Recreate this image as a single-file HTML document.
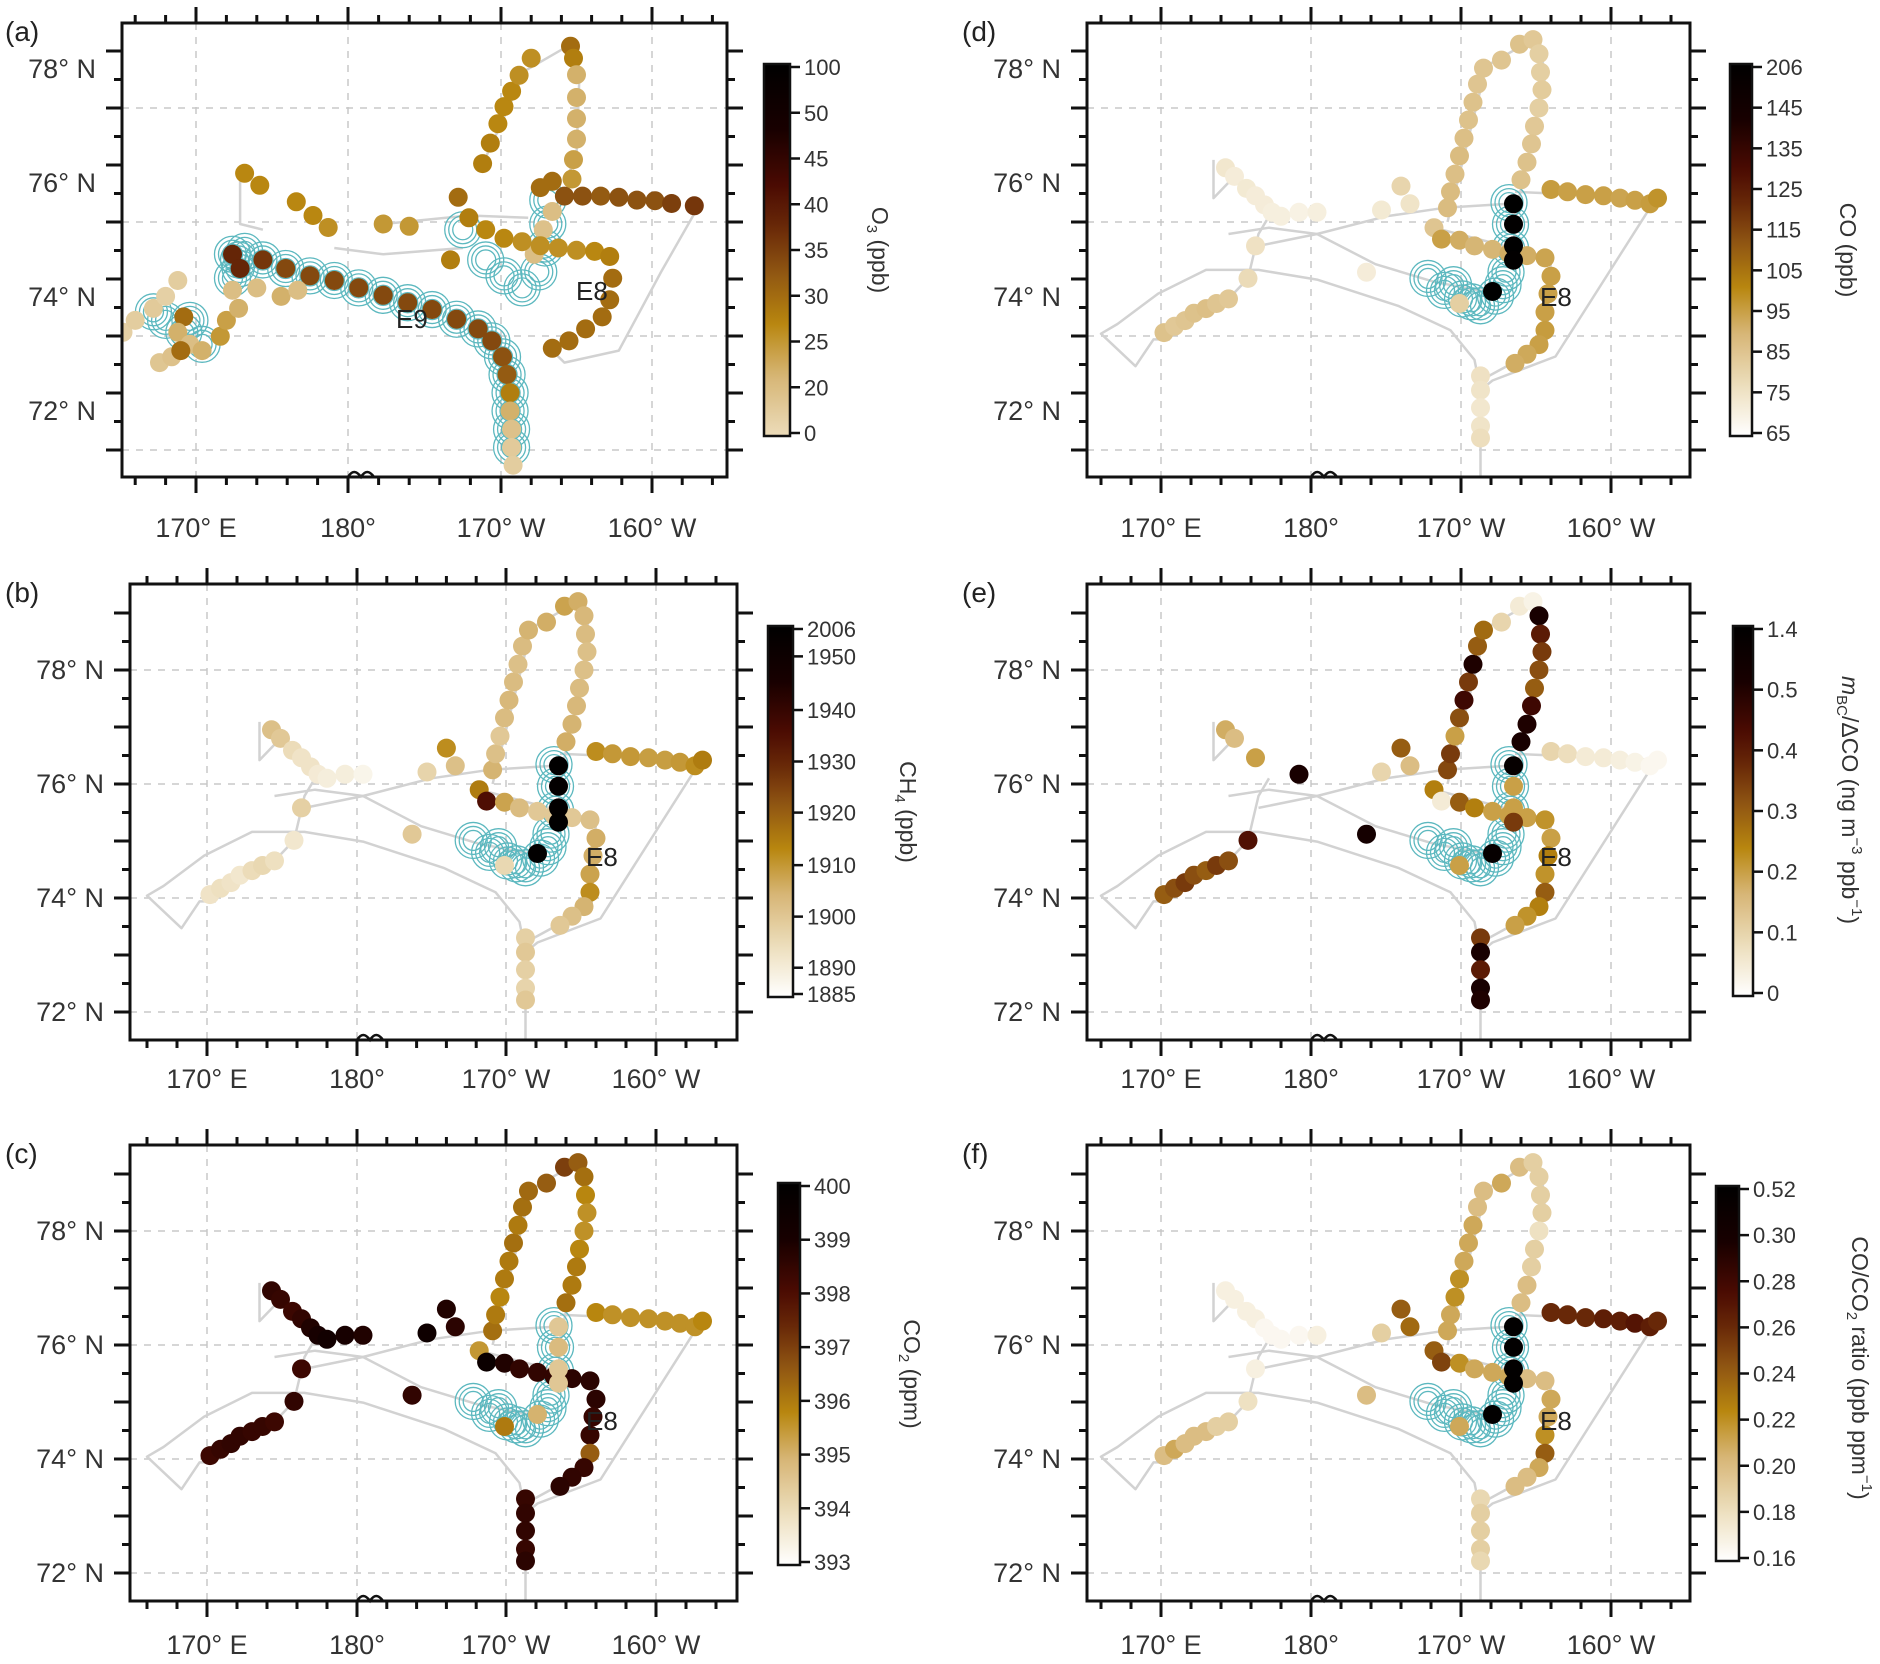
<!DOCTYPE html>
<html><head><meta charset="utf-8"><style>
html,body{margin:0;padding:0;background:#fff;}
svg{display:block;font-family:"Liberation Sans",Arial,sans-serif;}
</style></head><body>
<svg id="fig" xmlns="http://www.w3.org/2000/svg" width="1880" height="1664" viewBox="0 0 1880 1664">
<defs id="defs"></defs>
</svg>
<script>
// ---------- shared ship-track dot positions (panels b-f) ----------
const dotLon = [170.2,170.9,171.6,172.2,173.0,173.7,174.5, 175.8,176.3,
 174.3,174.9,175.7,176.3,176.9,177.4,178.0, 179.2,180.4,183.7,184.7,186.0,186.6,
 189.1,189.3,189.6,189.9,190.2,190.5,190.8,191.1,191.5, 192.7,193.9,194.8,195.2,
 195.3,195.4,195.2,194.9,194.7,194.4,194.0, 196.0,197.1,198.3,199.5,200.6,201.6,202.6,203.1,
 188.2,188.7,189.9,190.9,192.1,193.2,194.4,195.6,196.0,195.8,195.6,195.6,195.2,194.4,193.6,
 191.3,191.3,191.3,191.3,191.3, 193.5,193.5,193.5,193.5,192.1, 189.9];
const dotLat = [74.06,74.17,74.27,74.40,74.48,74.57,74.65, 75.01,75.58,
 76.95,76.80,76.59,76.46,76.30,76.17,76.10, 76.17,76.17,75.12,76.21,76.63,76.32,
 76.25,76.53,76.84,77.16,77.47,77.79,78.10,78.42,78.70, 78.84,79.12,79.20,78.95,
 78.63,78.32,78.00,77.68,77.37,77.05,76.74, 76.57,76.53,76.48,76.46,76.42,76.38,76.32,76.42,
 75.90,75.70,75.68,75.58,75.52,75.45,75.41,75.37,75.05,74.74,74.42,74.10,73.85,73.68,73.52,
 73.30,73.05,72.74,72.42,72.21, 76.32,75.96,75.58,75.33,74.78, 74.57];
const ch4 = [1893,1894,1893,1892,1895,1896,1894, 1892,1898,
 1902,1900,1895,1893,1893,1891,1890, 1890,1888,1900,1897,1912,1902,
 1905,1902,1900,1903,1904,1903,1902,1903,1905, 1906,1908,1906,1904,
 1903,1902,1902,1903,1904,1905,1906, 1912,1910,1910,1909,1909,1910,1912,1915,
 1915,1935,1908,1903,1900,1900,1900,1902,1906,1906,1908,1912,1905,1902,1900,
 1898,1900,1898,1897,1900, 2000,1990,1995,2000,1995, 1896];
const co2 = [398.3,398.4,398.5,398.5,398.4,398.4,398.3, 398.5,398.3,
 398.5,398.4,398.3,398.5,398.8,399.0,399.2, 399.0,398.8,398.5,399.4,398.8,398.6,
 396.2,396.0,395.8,396.0,396.0,396.2,396.0,396.2,396.3, 396.5,397.0,396.5,396.2,
 395.8,395.6,395.6,395.8,396.0,396.0,396.2, 395.8,395.6,395.6,395.6,395.6,395.6,395.6,395.8,
 395.5,399.5,398.8,398.5,398.5,398.5,398.6,398.6,398.6,398.4,398.4,396.5,398.4,398.5,398.6,
 398.4,398.5,398.5,398.4,398.6, 394.5,394.8,394.5,394.5,395.0, 396.0];
const coVals = [86,84,85,86,87,85,84, 78,76,
 74,72,73,72,72,71,71, 70,71,72,73,80,75,
 88,88,87,88,87,86,86,85,85, 85,86,84,82,
 82,83,82,84,85,86,86, 96,95,95,95,94,95,96,98,
 85,95,92,90,90,92,92,94,95,95,95,96,95,93,92,
 76,75,74,75,77, 206,200,206,200,206, 82];
const bcVals = [0.30,0.32,0.35,0.32,0.30,0.35,0.32, 0.42,null,
 0.18,0.15,null,0.20,null,null,null, 0.60,null,0.70,0.10,0.30,0.15,
 0.33,0.35,0.20,0.32,0.45,0.35,0.50,0.30,0.28, 0.10,0.05,0.03,0.60,
 0.40,0.35,0.32,0.30,0.45,0.50,0.60, 0.10,0.08,0.05,0.05,0.04,0.03,0.02,0.02,
 0.25,0.05,0.30,0.25,0.20,0.20,0.20,0.22,0.20,0.25,0.22,0.30,0.25,0.22,0.20,
 0.35,0.60,0.40,0.60,0.50, 1.2,0.20,0.20,0.35,1.2, 0.20];
const ratioVals = [0.20,0.21,0.20,0.20,0.20,0.19,0.19, 0.18,0.17,
 0.17,0.17,0.17,0.17,0.165,0.165,0.165, 0.165,0.17,0.20,0.19,0.24,0.235,
 0.21,0.21,0.22,0.22,0.21,0.21,0.21,0.20,0.20, 0.21,0.20,0.19,0.19,
 0.19,0.19,0.18,0.19,0.19,0.20,0.20, 0.26,0.26,0.26,0.265,0.265,0.27,0.265,0.26,
 0.24,0.25,0.22,0.21,0.21,0.21,0.20,0.20,0.21,0.21,0.22,0.24,0.21,0.20,0.20,
 0.185,0.19,0.19,0.19,0.185, 0.50,0.50,0.50,0.50,0.50, 0.21];
// ---------- panel (a) positions & O3 ----------
const aLon = [188.8,189.3,189.8,190.2,190.7,191.2,192.0, 194.6,194.8,195.0,195.0,195.0,195.0,194.8,194.7,
 194.2,195.4,196.6,197.8,199.0,200.2,201.3,202.8, 193.4,192.6,193.4,192.8,192.2,
 187.2,187.9,189.0,190.2,191.4,192.6,193.8,195.0,196.2,197.2,197.4,197.2,196.7,195.6,194.5,193.4,
 186.7,182.3,184.0, 173.2,174.2,176.6,177.7,178.7,
 172.4,172.9,174.4,175.9,177.5,179.1,180.7,182.3,183.9,185.5,187.1,188.5,189.4,190.1,190.4,190.6,190.6,190.7,190.7,190.8,
 172.4,174.0,175.6,176.7,
 165.2,166.0,167.2,168.0,168.8,169.2,168.8,169.6,167.6,168.4,170.4,171.6,172.0,172.8,169.0];
const aLat = [76.34,76.70,77.04,77.34,77.61,77.89,78.19, 78.40,78.19,77.90,77.50,77.13,76.77,76.41,76.07,
 75.77,75.77,75.77,75.75,75.70,75.69,75.64,75.60, 76.03,75.92,75.50,75.18,74.75,
 75.75,75.39,75.18,75.03,74.97,74.90,74.86,74.82,74.80,74.71,74.33,73.95,73.65,73.44,73.23,73.10,
 74.65,75.28,75.24, 76.17,75.96,75.67,75.43,75.22,
 74.75,74.50,74.65,74.50,74.37,74.29,74.16,74.03,73.90,73.78,73.61,73.44,73.23,72.95,72.64,72.32,72.00,71.68,71.36,71.05,
 74.12,74.16,74.01,74.12,
 73.38,73.59,73.80,74.01,74.29,73.65,73.38,73.17,72.85,72.95,73.06,73.31,73.59,73.80,73.06];
const o3 = [28,28,27,27,27,26,26, 30,28,22,22,22,22,24,25,
 33,33,32,33,33,33,35,36, 30,30,20,18,20,
 30,28,27,27,26,26,26,26,27,28,30,30,30,30,30,30,
 28,25,25, 27,27,27,27,26,
 38,38,36,34,34,34,34,34,34,34,34,34,34,33,32,28,22,18,12,10,
 20,20,22,20,
 8,10,12,8,10,30,22,20,15,18,22,25,24,22,30];
// ---------- teal footprint circle centres ----------
const e8Lon = [187.8,188.9,190.1,191.3,192.3,193.0,193.3,193.3,193.2,189.5,190.7,192.8];
const e8Lat = [75.01,74.80,74.65,74.53,74.70,75.12,75.54,75.96,76.34,74.90,74.60,74.90];
const aCircLon = [172.4,172.9,174.4,175.9,177.5,179.1,180.7,182.3,183.9,185.5,187.1,188.5,189.4,190.1,190.4,190.6,190.6,190.7,190.7,
 167.2,168.0,169.2,170.4,169.6,172.4,172.8,173.2, 187.5,189.0,190.2,191.4,192.5,192.9,193.1,193.1];
const aCircLat = [74.75,74.50,74.65,74.50,74.37,74.29,74.16,74.03,73.90,73.78,73.61,73.44,73.23,72.95,72.64,72.32,72.00,71.68,71.36,
 73.74,73.59,73.38,73.17,73.59,74.33,74.65,74.80, 75.18,74.65,74.37,74.16,74.44,74.86,75.28,75.70];
// ---------- grey ship track (lon/lat pairs) ----------
const trackLines = [
 [[191.3,71.0],[191.3,73.05],[192.1,73.22],[196.3,73.64],[202.6,76.25]],
 [[191.3,73.05],[190.9,73.58],[189.3,74.1],[185.8,74.53],[180.4,74.99],[176.5,75.16],[173.0,75.16],[171.0,74.9],[169.8,74.74],[167.1,74.21],[166.0,74.04],[168.3,73.47],[169.5,73.94],[170.6,73.94]],
 [[170.2,74.06],[174.5,74.65],[175.8,75.01],[176.5,75.79],[177.2,76.1]],
 [[174.5,75.79],[177.2,75.9],[180.4,75.79],[184.3,75.26],[188.2,74.95],[192.4,74.74]],
 [[176.5,75.58],[180.4,75.79],[185.0,76.1],[188.9,76.25],[193.2,76.32]],
 [[173.5,77.09],[173.5,76.42],[174.9,76.8]],
 [[189.1,76.0],[191.7,78.74],[195.2,79.26],[195.6,78.53],[193.6,76.1],[193.5,75.37]],
 [[193.6,76.53],[203.1,76.42]],
 [[188.2,75.9],[196.0,75.37],[195.7,73.85],[191.3,73.22]]
];
const trackLinesA = [
 [[188.9,76.39],[191.6,77.97],[194.8,78.46],[195.2,77.93],[195.0,76.45],[194.2,76.03]],
 [[203.1,75.6],[200.6,74.44],[197.8,73.06],[194.2,72.85],[193.4,73.06]],
 [[172.9,76.17],[172.9,75.28],[174.4,75.18]],
 [[182.3,75.28],[187.9,75.43],[191.8,75.39]],
 [[179.1,74.86],[182.3,74.75],[187.5,74.86]]
];
// ---------- colourbar ticks ----------
const ticksA = [0,20,25,30,35,40,45,50,100];
const ticksB = [1885,1890,1900,1910,1920,1930,1940,1950,2006];
const ticksC = [393,394,395,396,397,398,399,400];
const ticksD = [65,75,85,95,105,115,125,135,145,206];
const ticksE = [0,0.1,0.2,0.3,0.4,0.5,1.4];
const ticksF = [0.16,0.18,0.20,0.22,0.24,0.26,0.28,0.30,0.52];
const labelsE = ['0','0.1','0.2','0.3','0.4','0.5','1.4'];
const labelsF = ['0.16','0.18','0.20','0.22','0.24','0.26','0.28','0.30','0.52'];
const latTicks = [78,76,74,72];
const lonTicks = [170,180,190,200];
const lonLabels = ['170° E','180°','170° W','160° W'];

// ---------- layout ----------
const NS='http://www.w3.org/2000/svg';
const svg=document.getElementById('fig');
function mk(tag,attrs,parent){const e=document.createElementNS(NS,tag);for(const k in attrs)e.setAttribute(k,attrs[k]);(parent||svg).appendChild(e);return e;}
const XL=[207,357,506,656], XR=[1161,1311,1461,1611];
const cbFracB=[0,0.072,0.212,0.353,0.497,0.637,0.778,0.925,1];
const panels=[
 {id:'a',xs:[196,348,501,652],box:[122,23,727,477],grid72:450,lab72:411,data72:411,cb:[764,64,790,436],cbTitle:[872,250],title:'O3',ticks:ticksA,lab:null,cmin:0.14,e8:[576,300]},
 {id:'b',xs:XL,box:[130,584,737,1040],grid72:1012,lab72:1012,data72:1012,cb:[768,626,793,997],cbTitle:[900,812],title:'CH4',ticks:ticksB,lab:null,frac:cbFracB,vals:ch4,e8:[586,866]},
 {id:'c',xs:XL,box:[130,1145,737,1601],grid72:1573,lab72:1573,data72:1573,cb:[778,1183,800,1565],cbTitle:[904,1374],title:'CO2',ticks:ticksC,lab:null,vals:co2,e8:[586,1430]},
 {id:'d',xs:XR,box:[1087,23,1690,477],grid72:450,lab72:411,data72:450,cb:[1730,64,1752,436],cbTitle:[1840,250],title:'CO',ticks:ticksD,lab:null,vals:coVals,e8:[1540,306]},
 {id:'e',xs:XR,box:[1087,584,1690,1040],grid72:1012,lab72:1012,data72:1012,cb:[1733,626,1753,996],cbTitle:[1842,800],title:'BC',ticks:ticksE,lab:labelsE,vals:bcVals,e8:[1540,866]},
 {id:'f',xs:XR,box:[1087,1145,1690,1601],grid72:1573,lab72:1573,data72:1573,cb:[1716,1186,1739,1561],cbTitle:[1852,1368],title:'RATIO',ticks:ticksF,lab:labelsF,vals:ratioVals,e8:[1540,1430]}
];
const KY=57;
const stops=[[0,[255,255,255]],[0.12,[239,226,196]],[0.28,[214,181,116]],[0.4,[184,134,15]],[0.52,[143,85,18]],[0.62,[106,42,8]],[0.72,[74,10,2]],[0.85,[24,0,0]],[1,[0,0,0]]];
function cmap(t){t=Math.max(0,Math.min(1,t));for(let i=1;i<stops.length;i++){if(t<=stops[i][0]){const a=stops[i-1],b=stops[i];const u=(t-a[0])/(b[0]-a[0]);const c=a[1].map((v,k)=>Math.round(v+(b[1][k]-v)*u));return 'rgb('+c.join(',')+')';}}return '#000';}
function fracOf(p,i){return p.frac?p.frac[i]:i/(p.ticks.length-1);}
function valFrac(p,v){const t=p.ticks;if(v<=t[0])return 0;for(let i=1;i<t.length;i++){if(v<=t[i]){return fracOf(p,i-1)+(v-t[i-1])/(t[i]-t[i-1])*(fracOf(p,i)-fracOf(p,i-1));}}return 1;}
function colorFor(p,v){const f=valFrac(p,v);return cmap(p.cmin?p.cmin+(1-p.cmin)*f:f);}
function xOf(p,lon){const xs=p.xs;let i=lon<180?0:(lon<190?1:2);const k=(xs[i+1]-xs[i])/10;return xs[i]+(lon-lonTicks[i])*k;}
function yData(p,lat){return p.data72-(lat-72)*KY;}

panels.forEach(p=>{
 const g=mk('g',{});
 
 
 const [x0,y0,x1,y1]=p.box;
 const clipId='clip'+p.id;
 const cp=mk('clipPath',{id:clipId},document.getElementById('defs'));
 mk('rect',{x:x0,y:y0,width:x1-x0,height:y1-y0},cp);
 const gg=mk('g',{stroke:'#c8c8c8','stroke-width':1.5,'stroke-dasharray':'7,7'},g);
 
 
 lonTicks.forEach(l=>{const x=xOf(p,l);mk('line',{x1:x,x2:x,y1:y0,y2:y1},gg);});
 latTicks.forEach(l=>{const y=p.grid72-(l-72)*KY;mk('line',{x1:x0,x2:x1,y1:y,y2:y},gg);});
 const data=mk('g',{'clip-path':'url(#'+clipId+')'},g);
 
 
 const tl=p.id==='a'?trackLinesA:trackLines;
 tl.forEach(line=>{
  const pl=mk('polyline',{points:line.map(q=>xOf(p,q[0]).toFixed(1)+','+yData(p,q[1]).toFixed(1)).join(' '),fill:'none',stroke:'#d2d2d2','stroke-width':2.5,'stroke-linejoin':'round'},data);
  
  
 });
 const cl=p.id==='a'?aCircLon:e8Lon, ct=p.id==='a'?aCircLat:e8Lat;
 const cg=mk('g',{fill:'none',stroke:'#5cb8bf','stroke-width':1.3},data);
 
 
 cl.forEach((l,i)=>{const cx=xOf(p,l),cy=yData(p,ct[i]);for(let r=18;r>=10;r-=4)mk('circle',{cx:cx,cy:cy,r:r},cg);});
 const lons=p.id==='a'?aLon:dotLon, lats=p.id==='a'?aLat:dotLat, vals=p.id==='a'?o3:p.vals;
 const dg=mk('g',{},data);
 
 
 lons.forEach((l,i)=>{const v=vals[i];if(v===null||v===undefined)return;
  const c=mk('circle',{cx:xOf(p,l).toFixed(1),cy:yData(p,lats[i]).toFixed(1),r:9.5,fill:colorFor(p,v)},dg);
  
  
 });
 const fr=mk('rect',{x:x0,y:y0,width:x1-x0,height:y1-y0,fill:'none',stroke:'#111','stroke-width':3},g);
 
 
 const tg=mk('g',{stroke:'#111','stroke-width':3},g);
 
 
 for(let l=164;l<=204;l+=2){const x=xOf(p,l);if(x<x0+3||x>x1-3)continue;const len=(l%10===0)?16:8;
  mk('line',{x1:x,x2:x,y1:y0,y2:y0-len},tg);mk('line',{x1:x,x2:x,y1:y1,y2:y1+len},tg);}
 for(let k=-20;k<=20;k++){const y=p.grid72-k*KY/2;if(y<y0+3||y>y1-3)continue;const len=(k%2===0)?16:8;
  mk('line',{x1:x0,x2:x0-len,y1:y,y2:y},tg);mk('line',{x1:x1,x2:x1+len,y1:y,y2:y},tg);}
 const bx=xOf(p,180);
 const bp=mk('path',{d:`M${bx} ${y1} q6 -10 13 0 q6 -10 13 0`,fill:'none',stroke:'#111','stroke-width':2.5},g);
 
 
 latTicks.forEach(l=>{const t=mk('text',{x:x0-26,y:p.lab72-(l-72)*KY+9,'text-anchor':'end','font-size':27,fill:'#333'},g);t.textContent=l+'° N';
  });
 const ly=y0+ (p.box[1]===23?514:(p.box[1]===584?504:509));
 lonTicks.forEach((l,i)=>{const t=mk('text',{x:xOf(p,l),y:ly,'text-anchor':'middle','font-size':27,fill:'#333'},g);t.textContent=lonLabels[i];
  });
 const pt=mk('text',{x:p.xs===XR?962:5,y:y0+18,'font-size':28,fill:'#222'},g);
 pt.textContent='('+p.id+')';
 
 const el=mk('text',{x:p.e8[0],y:p.e8[1],'font-size':26,fill:'#222'},g);el.textContent='E8';
 
 if(p.id==='a'){const e9=mk('text',{x:396,y:328,'font-size':26,fill:'#222'},g);e9.textContent='E9';
  }
 const [cx0,cy0,cx1,cy1]=p.cb;
 const gid='grad'+p.id;
 const lg=mk('linearGradient',{id:gid,x1:0,y1:1,x2:0,y2:0},document.getElementById('defs'));
 for(let s=0;s<=40;s++){const f=s/40;mk('stop',{offset:f,'stop-color':cmap(p.cmin?p.cmin+(1-p.cmin)*f:f)},lg);}
 const cbr=mk('rect',{x:cx0,y:cy0,width:cx1-cx0,height:cy1-cy0,fill:'url(#'+gid+')',stroke:'#111','stroke-width':2.5},g);
 
 p.ticks.forEach((v,i)=>{const f=fracOf(p,i);const y=cy1-3-f*(cy1-cy0-6);
  mk('line',{x1:cx1,x2:cx1+10,y1:y,y2:y,stroke:'#111','stroke-width':2.5},g);
  const t=mk('text',{x:cx1+14,y:y+8,'font-size':22,fill:'#333'},g);t.textContent=p.lab?p.lab[i]:String(v);
  });
 const tt=mk('text',{transform:`translate(${p.cbTitle[0]},${p.cbTitle[1]}) rotate(90)`,'text-anchor':'middle','font-size':23,fill:'#333'},g);
 
 if(p.title==='O3')tt.innerHTML='O<tspan font-size="15" dy="5">3</tspan><tspan dy="-5"> (ppb)</tspan>';
 else if(p.title==='CH4')tt.innerHTML='CH<tspan font-size="15" dy="5">4</tspan><tspan dy="-5"> (ppb)</tspan>';
 else if(p.title==='CO2')tt.innerHTML='CO<tspan font-size="15" dy="5">2</tspan><tspan dy="-5"> (ppm)</tspan>';
 else if(p.title==='CO')tt.textContent='CO (ppb)';
 else if(p.title==='BC')tt.innerHTML='<tspan font-style="italic">m</tspan><tspan font-size="15" dy="5">BC</tspan><tspan dy="-5">/ΔCO (ng m</tspan><tspan font-size="15" dy="-10">−3</tspan><tspan dy="10"> ppb</tspan><tspan font-size="15" dy="-10">−1</tspan><tspan dy="10">)</tspan>';
 else tt.innerHTML='CO/CO<tspan font-size="15" dy="5">2</tspan><tspan dy="-5"> ratio (ppb ppm</tspan><tspan font-size="15" dy="-10">−1</tspan><tspan dy="10">)</tspan>';
});
</script>
</body></html>
